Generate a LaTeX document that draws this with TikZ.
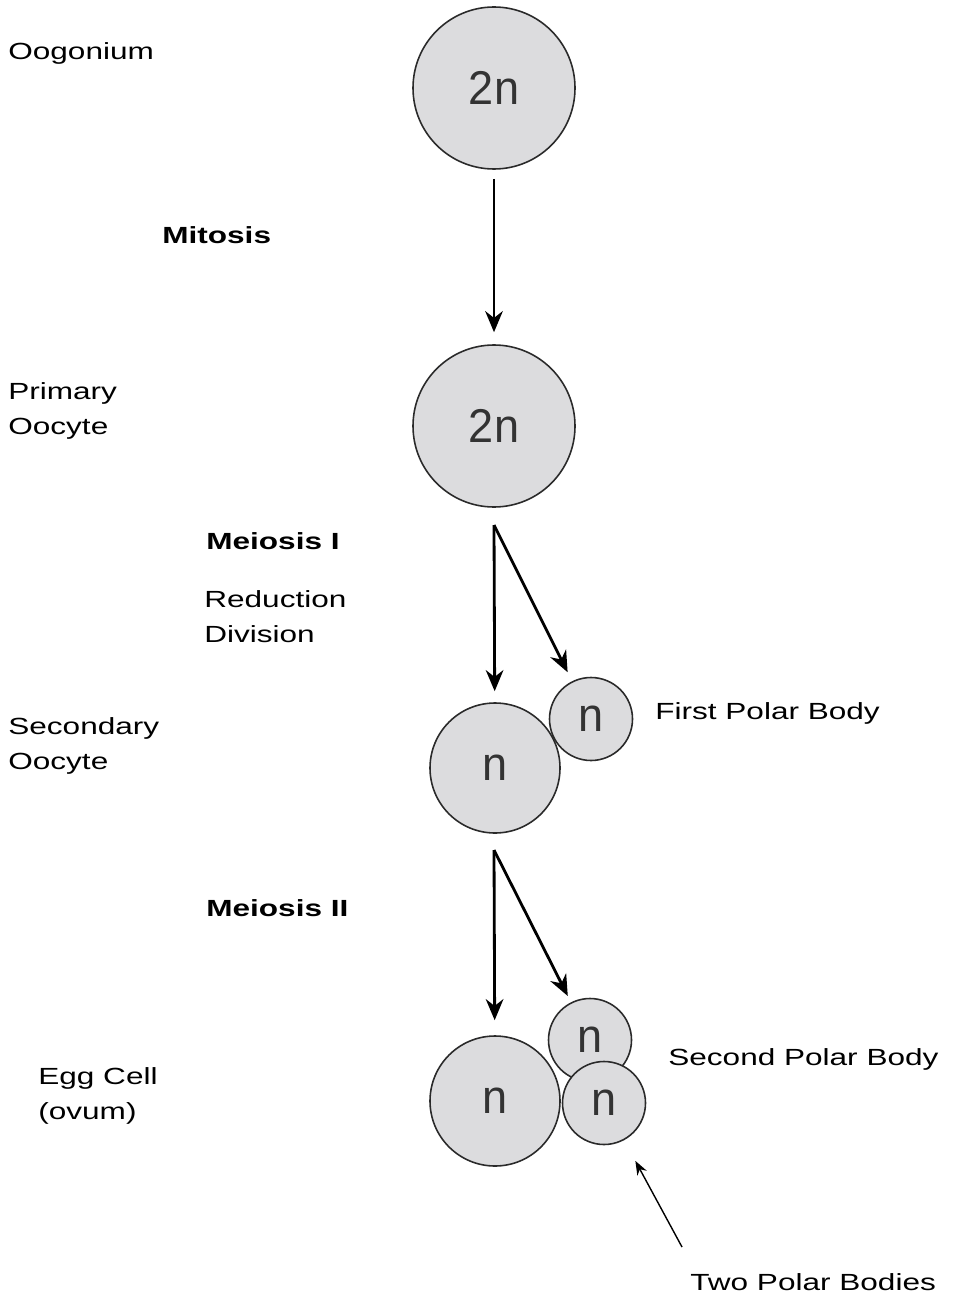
\documentclass[tikz,border=0pt]{standalone}
\usepackage{fontspec}
\setmainfont[FakeStretch=1.35]{Liberation Sans}
\newfontfamily\cellfont[FakeStretch=0.95]{Liberation Sans}
\usetikzlibrary{positioning,arrows.meta}
\definecolor{CellGray}{HTML}{DCDCDE}
\definecolor{RimGray}{HTML}{2A2A2A}
\definecolor{PloidyGray}{HTML}{333333}

\begin{document}
\begin{tikzpicture}[
  cell/.style   = {circle, draw=RimGray, fill=CellGray, line width=0.9pt,
                   minimum size=3.24cm, inner sep=0pt,
                   font=\cellfont\fontsize{27}{27}\selectfont, text=PloidyGray},
  midcell/.style = {cell, minimum size=2.6cm},
  polar/.style  = {cell, minimum size=1.66cm},
  lbl/.style    = {anchor=west, inner sep=0pt, align=left,
                   font=\fontsize{13.3}{19.8}\selectfont},
  stage/.style  = {lbl, font=\fontsize{13.3}{19.8}\selectfont\bfseries},
  arr/.style    = {-{Stealth[length=12pt,width=10pt]}, line width=1.6pt},
  ptr/.style    = {-{Stealth[length=8pt,width=6pt]}, line width=0.8pt}
]
  \useasboundingbox (0,0) rectangle (19.06,-26.1);

  % cells
  \node[cell]    (oog)  at (9.88, -1.76)  {2n};
  \node[cell]    (prim) at (9.88, -8.52)  {2n};
  \node[midcell] (sec)  at (9.90,-15.36)  {n};
  \node[polar]   (pb1)  at (11.82,-14.38) {n};
  \node[midcell] (egg)  at (9.90,-22.02)  {n};
  \node[polar]   (pb2a) at (11.80,-20.80) {n};
  \node[polar]   (pb2b) at (12.08,-22.06) {n};

  % labels
  \node[lbl]   (l1) at (0.16, -1.06) {Oogonium};
  \node[stage] (s1) at (3.24, -4.70) {Mitosis};
  \node[lbl]   (l2) at (0.16, -8.22) {Primary\\Oocyte};
  \node[stage] (s2) at (4.12,-10.82) {Meiosis I};
  \node[lbl]   (s3) at (4.08,-12.34) {Reduction\\Division};
  \node[lbl]   (l3) at (0.16,-14.92) {Secondary\\Oocyte};
  \node[lbl]   (l4) at (13.10,-14.26) {First Polar Body};
  \node[stage] (s4) at (4.12,-18.16) {Meiosis II};
  \node[lbl]   (l5) at (0.76,-21.92) {Egg Cell\\(ovum)};
  \node[lbl]   (l6) at (13.36,-21.18) {Second Polar Body};
  \node[lbl]   (l7) at (13.80,-25.64) {Two Polar Bodies};

  % divisions
  \coordinate (m1) at (9.88,-10.50);
  \coordinate (m2) at (9.88,-17.00);
  \coordinate (tp) at (13.64,-24.94);

  \draw[arr, shorten <=0.18cm, shorten >=0.24cm] (oog) -- (prim);
  \draw[arr, shorten >=0.22cm] (m1) -- (sec);
  \draw[arr, shorten >=0.2cm]  (m1) -- (pb1);
  \draw[arr, shorten >=0.3cm]  (m2) -- (egg);
  \draw[arr, shorten >=0.14cm] (m2) -- (pb2a);
  \draw[ptr, shorten >=0.47cm] (tp) -- (pb2b);
\end{tikzpicture}
\end{document}
